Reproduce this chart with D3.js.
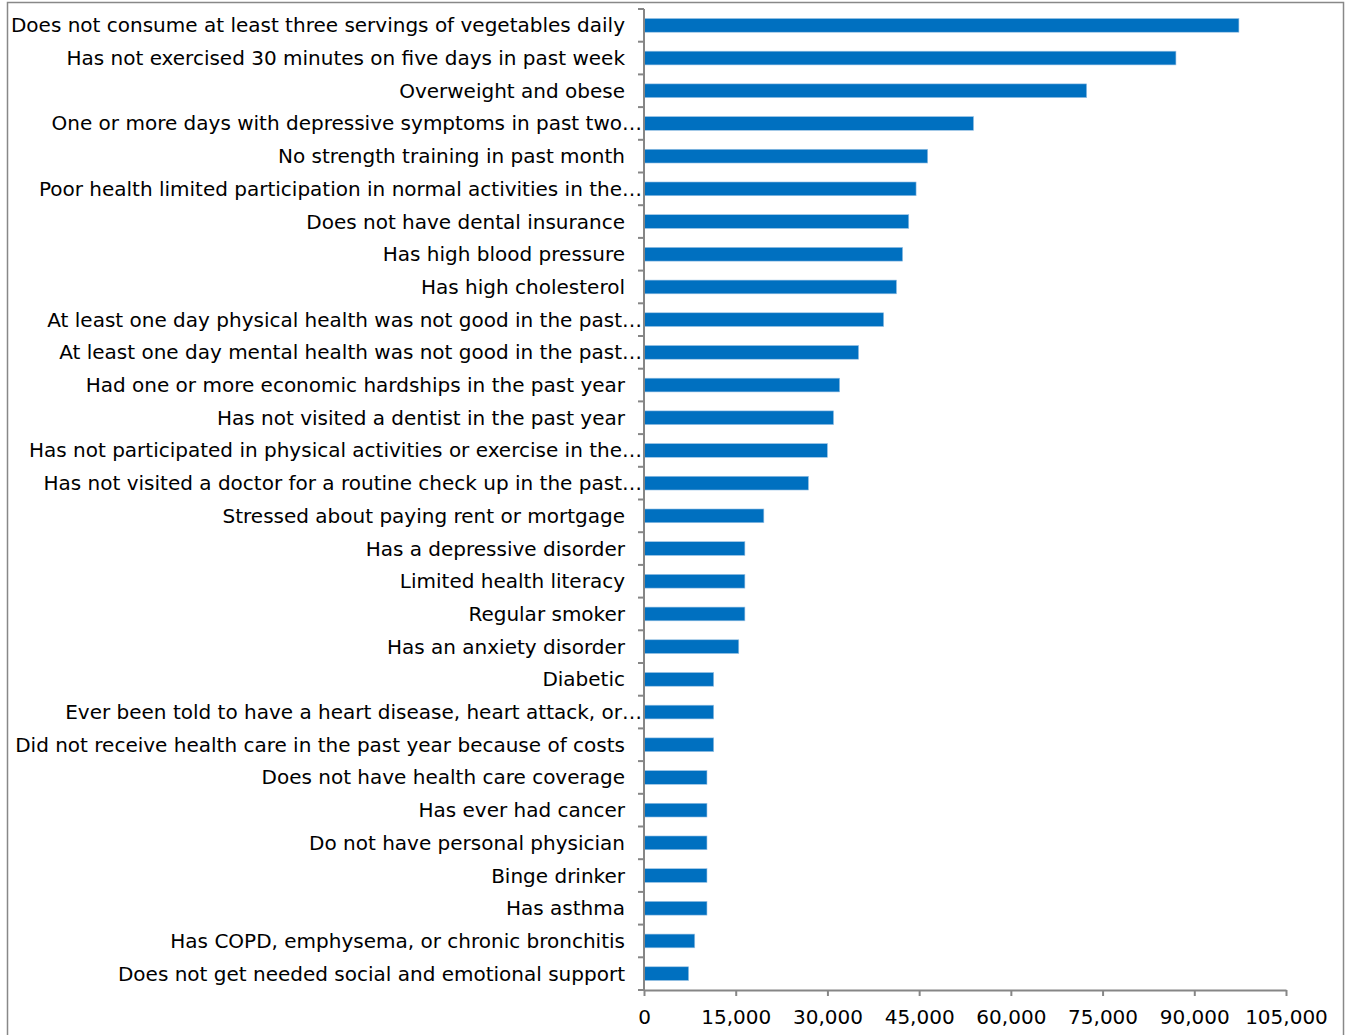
<!DOCTYPE html>
<html lang="en">
<head>
    <title>Health indicators</title>
    <style>
        body { margin: 0; background: #fff; }
        text { font-family: Verdana, "DejaVu Sans", sans-serif; fill: #000; }
        .bar { fill: #0070c0; stroke: #9cc3e5; stroke-width: 0.6; }
        .domain, .tick line { stroke: #868686; }
    </style>
    <script src="https://cdn.jsdelivr.net/npm/d3@7"></script>
</head>
<body>
<svg width="1347" height="1035"></svg>
<script>
    // categories top to bottom, "…" marks labels cut by the original chart
    const categories = [
        "Does not consume at least three servings of vegetables daily",
        "Has not exercised 30 minutes on five days in past week",
        "Overweight and obese",
        "One or more days with depressive symptoms in past two…",
        "No strength training in past month",
        "Poor health limited participation in normal activities in the…",
        "Does not have dental insurance",
        "Has high blood pressure",
        "Has high cholesterol",
        "At least one day physical health was not good in the past…",
        "At least one day mental health was not good in the past…",
        "Had one or more economic hardships in the past year",
        "Has not visited a dentist in the past year",
        "Has not participated in physical activities or exercise in the…",
        "Has not visited a doctor for a routine check up in the past…",
        "Stressed about paying rent or mortgage",
        "Has a depressive disorder",
        "Limited health literacy",
        "Regular smoker",
        "Has an anxiety disorder",
        "Diabetic",
        "Ever been told to have a heart disease, heart attack, or…",
        "Did not receive health care in the past year because of costs",
        "Does not have health care coverage",
        "Has ever had cancer",
        "Do not have personal physician",
        "Binge drinker",
        "Has asthma",
        "Has COPD, emphysema, or chronic bronchitis",
        "Does not get needed social and emotional support"
    ];
    const values = [
        97300, 87000, 72400, 53900, 46400, 44500, 43300, 42300, 41300, 39200,
        35100, 32000, 31000, 30000, 26900, 19600, 16500, 16500, 16500, 15500,
        11400, 11400, 11400, 10300, 10300, 10300, 10300, 10300, 8300, 7300
    ];
    const xTicks = [0, 15000, 30000, 45000, 60000, 75000, 90000, 105000];

    const data = categories.map((c, i) => ({ name: c, value: values[i] }));

    const svg = d3.select("svg");

    // outer chart frame
    svg.append("rect")
        .attr("x", 7.5).attr("y", 2.5)
        .attr("width", 1336).attr("height", 1040)
        .attr("fill", "none").attr("stroke", "#888").attr("stroke-width", 1.5);

    const plotL = 644, plotR = 1286, plotT = 9, plotB = 990;

    const x = d3.scaleLinear().domain([0, 105000]).range([plotL, plotR]);
    const y = d3.scaleBand().domain(categories).range([plotT, plotB]).paddingInner(0.58).paddingOuter(0.29);

    svg.selectAll(".bar")
        .data(data)
        .join("rect")
        .attr("class", "bar")
        .attr("x", x(0))
        .attr("y", d => y(d.name))
        .attr("height", y.bandwidth())
        .attr("width", d => x(d.value) - x(0));

    // x axis
    const xAxis = svg.append("g")
        .attr("transform", `translate(0,${plotB})`)
        .call(d3.axisBottom(x).tickValues(xTicks).tickSize(6).tickPadding(14)
            .tickFormat(d3.format(",")).tickSizeOuter(0));
    xAxis.selectAll("text").attr("font-size", 20).attr("font-family", null);
    xAxis.select(".domain").attr("stroke-width", 2);
    xAxis.selectAll(".tick line").attr("stroke-width", 2);

    // y axis: line plus ticks at category boundaries
    const yAxis = svg.append("g");
    yAxis.append("line")
        .attr("class", "domain")
        .attr("x1", plotL).attr("x2", plotL)
        .attr("y1", plotT).attr("y2", plotB)
        .attr("stroke-width", 2);
    const step = (plotB - plotT) / categories.length;
    yAxis.selectAll(".tick")
        .data(d3.range(categories.length + 1))
        .join("line")
        .attr("class", "tick")
        .attr("x1", plotL - 6).attr("x2", plotL)
        .attr("y1", i => plotT + i * step).attr("y2", i => plotT + i * step)
        .attr("stroke", "#868686").attr("stroke-width", 2);

    svg.selectAll(".label")
        .data(data)
        .join("text")
        .attr("class", "label")
        .attr("x", d => d.name.endsWith("…") ? plotL - 2 : 625)
        .attr("y", d => y(d.name) + y.bandwidth() / 2)
        .attr("dy", "0.35em")
        .attr("text-anchor", "end")
        .attr("font-size", 20)
        .text(d => d.name);
</script>
</body>
</html>
